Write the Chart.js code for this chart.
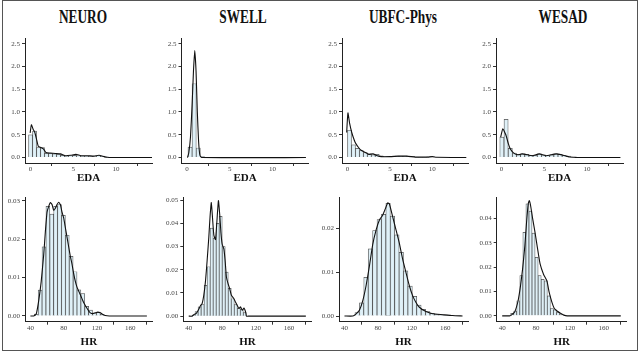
<!DOCTYPE html>
<html>
<head>
<meta charset="utf-8">
<script src="https://cdn.jsdelivr.net/npm/chart.js@4.4.0/dist/chart.umd.min.js"></script>
<style>
  body { margin: 0; background: #fff; width: 640px; height: 352px; position: relative; overflow: hidden; font-family: 'Liberation Serif', serif; }
  .frame { position: absolute; left: 2px; top: 0; width: 636px; height: 351px; border: 1px solid #555; box-sizing: border-box; }
  .title { position: absolute; top: 7px; width: 160px; text-align: center; font-family: 'Liberation Serif', serif; font-weight: bold; font-size: 18px; color: #111; transform: scaleX(0.74); }
  canvas { position: absolute; }
</style>
</head>
<body>
<div class="frame"></div>
<div id="titles"></div>

<script>
// ===== Data =====
const datasetNames = ['NEURO', 'SWELL', 'UBFC-Phys', 'WESAD'];
const edaXTicks = [0, 5, 10];
const edaYTicks = [0, 0.5, 1, 1.5, 2, 2.5];
const hrXTicks = [40, 80, 120, 160];
const neuroHrYTicks = [0, 0.01, 0.02, 0.03];
const swellHrYTicks = [0, 0.01, 0.02, 0.03, 0.04, 0.05];
const ubfcHrYTicks = [0, 0.01, 0.02];
const wesadHrYTicks = [0, 0.01, 0.02, 0.03, 0.04];

// EDA histograms (bin centres / density) and density curves
const neuroEdaBins = [0, 0.467, 0.933, 1.4, 1.867, 2.333, 2.8, 3.267, 3.733, 4.2, 4.667, 5.133, 5.6, 6.067, 6.533, 7.0, 7.467, 7.933, 8.4, 8.867, 9.333];
const neuroEdaHist = [0.50, 0.58, 0.22, 0.22, 0.09, 0.09, 0.08, 0.07, 0.05, 0.03, 0.04, 0.05, 0.04, 0.03, 0.03, 0.03, 0.02, 0.04, 0.03, 0.01, 0.005];
const neuroEdaDensX = [-0.05, 0.1, 0.3, 0.5, 0.7, 0.9, 1.2, 1.5, 1.8, 2.3, 2.9, 3.5, 4.1, 4.7, 5.3, 5.9, 6.7, 7.4, 8.0, 8.6, 9.0, 9.5, 14.2];
const neuroEdaDensY = [0.54, 0.72, 0.62, 0.55, 0.40, 0.25, 0.22, 0.19, 0.11, 0.10, 0.09, 0.08, 0.04, 0.05, 0.07, 0.04, 0.04, 0.03, 0.05, 0.02, 0.005, 0, 0];

const swellEdaBins = [0.35, 0.83, 1.31, 1.79];
const swellEdaHist = [0.23, 1.62, 0.21, 0.02];
const swellEdaDensX = [0.05, 0.2, 0.4, 0.6, 0.75, 0.9, 1.05, 1.2, 1.35, 1.5, 1.7, 13.9];
const swellEdaDensY = [0, 0.1, 0.45, 1.2, 1.9, 2.35, 1.9, 1.0, 0.35, 0.05, 0, 0];

const ubfcEdaBins = [0.233, 0.7, 1.167, 1.633, 2.1, 2.567, 3.033, 3.5, 3.967, 4.433, 4.9, 5.367, 5.833, 6.3, 6.767, 7.233, 7.7, 8.167, 8.633, 9.1, 9.567, 10.033];
const ubfcEdaHist = [0.60, 0.28, 0.20, 0.15, 0.11, 0.08, 0.06, 0.07, 0.04, 0.02, 0.02, 0.02, 0.03, 0.03, 0.03, 0.02, 0.02, 0.01, 0.01, 0.01, 0.015, 0.015];
const ubfcEdaDensX = [-0.1, 0.05, 0.25, 0.5, 0.8, 1.0, 1.3, 1.6, 2.0, 2.5, 3.0, 3.5, 4.0, 5.0, 6.0, 7.0, 8.0, 9.0, 9.5, 10.0, 10.5, 14.0];
const ubfcEdaDensY = [0.55, 0.98, 0.75, 0.55, 0.38, 0.30, 0.22, 0.16, 0.12, 0.07, 0.08, 0.04, 0.02, 0.02, 0.03, 0.03, 0.01, 0.01, 0.01, 0.02, 0.005, 0];

const wesadEdaBins = [0.04, 0.53, 1.02, 1.5, 1.99, 2.47, 2.96, 3.44, 3.93, 4.42, 4.9, 5.39, 5.87, 6.36, 6.84, 7.33, 7.82, 8.3];
const wesadEdaHist = [0.45, 0.84, 0.20, 0.10, 0.07, 0.08, 0.07, 0.05, 0.05, 0.08, 0.06, 0.04, 0.06, 0.08, 0.07, 0.05, 0.03, 0.01];
const wesadEdaDensX = [-0.1, 0.15, 0.5, 0.8, 1.0, 1.3, 1.6, 2.0, 2.4, 2.8, 3.2, 3.6, 4.0, 4.4, 4.8, 5.2, 5.6, 6.0, 6.4, 6.8, 7.2, 7.6, 8.0, 8.5, 9.0, 13.9];
const wesadEdaDensY = [0.45, 0.63, 0.50, 0.30, 0.20, 0.12, 0.08, 0.06, 0.08, 0.07, 0.05, 0.04, 0.06, 0.08, 0.06, 0.04, 0.05, 0.07, 0.08, 0.07, 0.05, 0.03, 0.01, 0.005, 0, 0];

// HR histograms and density curves
const neuroHrBins = [47.0, 51.7, 56.3, 61.0, 65.7, 70.3, 75.0, 79.7, 84.3, 89.0, 93.7, 98.3, 103.0, 107.7, 112.3, 117.0, 121.7, 126.3];
const neuroHrHist = [0.0005, 0.0067, 0.018, 0.0285, 0.0265, 0.0285, 0.029, 0.0262, 0.021, 0.0155, 0.0115, 0.0068, 0.0058, 0.0025, 0.0015, 0.0008, 0.001, 0.0004];
const neuroHrDensX = [40, 44, 47, 50, 53, 56, 58, 60, 62, 64, 66, 68, 70, 72, 74, 76, 78, 80, 82, 84, 86, 88, 90, 92, 94, 96, 98, 100, 102, 104, 106, 108, 110, 112, 115, 118, 121, 124, 127, 130, 135, 180];
const neuroHrDensY = [0, 0, 0.0005, 0.004, 0.009, 0.016, 0.022, 0.027, 0.0285, 0.0295, 0.029, 0.0275, 0.028, 0.029, 0.0296, 0.029, 0.027, 0.0255, 0.023, 0.0205, 0.018, 0.0155, 0.0135, 0.011, 0.009, 0.0075, 0.0065, 0.0055, 0.0045, 0.0035, 0.0027, 0.002, 0.0013, 0.0008, 0.0006, 0.0008, 0.001, 0.0008, 0.0004, 0.0001, 0, 0];

const swellHrBins = [45.8, 49.4, 53.0, 56.6, 60.2, 63.8, 67.4, 71.0, 74.6, 78.2, 81.8, 85.4, 89.0, 92.6, 96.2, 99.8, 103.4, 107.0];
const swellHrHist = [0.0005, 0.002, 0.004, 0.005, 0.0133, 0.0213, 0.038, 0.0336, 0.040, 0.043, 0.030, 0.019, 0.012, 0.0075, 0.005, 0.0035, 0.003, 0.0015];
const swellHrDensX = [40, 44, 46, 49, 52, 54, 56, 58, 60, 62, 64, 65.5, 67, 68.5, 70, 72, 73.5, 75.5, 77, 78.5, 80, 82, 83.5, 85, 87, 89, 91, 94, 96, 98, 100, 102, 104, 106, 108, 109, 112, 180];
const swellHrDensY = [0, 0, 0.0006, 0.0012, 0.003, 0.0045, 0.0054, 0.009, 0.015, 0.024, 0.034, 0.043, 0.049, 0.042, 0.035, 0.033, 0.040, 0.0498, 0.044, 0.036, 0.031, 0.029, 0.024, 0.017, 0.014, 0.0118, 0.009, 0.0075, 0.006, 0.0046, 0.0033, 0.004, 0.0025, 0.0035, 0.0018, 0, 0, 0];

const ubfcHrBins = [55.1, 60.4, 65.6, 70.9, 76.1, 81.4, 86.6, 91.9, 97.1, 102.4, 107.6, 112.9, 118.1, 123.4, 128.6, 133.9, 139.1, 144.4, 149.6, 154.9, 160.1, 165.4];
const ubfcHrHist = [0.0008, 0.003, 0.0088, 0.0153, 0.0195, 0.022, 0.0232, 0.0257, 0.0228, 0.0185, 0.0145, 0.0103, 0.0068, 0.0045, 0.0025, 0.0015, 0.001, 0.0006, 0.0004, 0.0003, 0.0002, 0.0001];
const ubfcHrDensX = [40, 50, 53.9, 57.8, 61.8, 65.7, 69.7, 73.6, 77.6, 81.6, 85.5, 88.7, 91.5, 93.4, 97.4, 101.4, 105.3, 109.3, 113.2, 117.2, 121.2, 125.1, 129.1, 137, 145, 156.8, 168.7, 180.5];
const ubfcHrDensY = [0, 0, 0.0005, 0.0013, 0.0035, 0.0069, 0.0114, 0.0163, 0.0196, 0.0219, 0.023, 0.0245, 0.0258, 0.0256, 0.0226, 0.0196, 0.0166, 0.0129, 0.0099, 0.0069, 0.0046, 0.0031, 0.002, 0.001, 0.0005, 0.0003, 0.0001, 0];

const wesadHrBins = [51.8, 55.4, 59.0, 62.6, 66.2, 69.8, 73.4, 77.0, 80.6, 84.2, 87.8, 91.4, 95.0, 98.6, 102.2, 105.8, 109.4];
const wesadHrHist = [0.001, 0.002, 0.0062, 0.0165, 0.0343, 0.046, 0.043, 0.034, 0.024, 0.0165, 0.015, 0.0144, 0.0082, 0.003, 0.0025, 0.0013, 0.0005];
const wesadHrDensX = [40, 48.8, 50.75, 54.75, 58.75, 61.6, 64, 66.75, 68.75, 70.75, 72, 73.5, 76, 78.75, 81.5, 84.75, 88.75, 92.75, 95.5, 98.75, 101.5, 104.75, 108.75, 112.75, 116.75, 180];
const wesadHrDensY = [0, 0, 0.0003, 0.0016, 0.0062, 0.0123, 0.019, 0.0288, 0.0384, 0.046, 0.0473, 0.0453, 0.0398, 0.0343, 0.0281, 0.0213, 0.0171, 0.0144, 0.0096, 0.0055, 0.003, 0.002, 0.0011, 0.0003, 0, 0];

// ===== Layout =====
Chart.defaults.font.family = "'Liberation Serif', 'Times New Roman', serif";
Chart.defaults.color = '#444';

const rows = [
  { top: 38, bottom: 163, label: 'EDA', titlePad: 3, xMin: -0.65, xMax: 14.2, xTicks: edaXTicks, dec: 1 },
  { top: 196.7, bottom: 321.7, label: 'HR', titlePad: -2, xMin: 33.5, xMax: 187, xTicks: hrXTicks, dec: 2 }
];

const panels = [
  { row: 0, left: 25, right: 152, bins: neuroEdaBins, hist: neuroEdaHist, dx: neuroEdaDensX, dy: neuroEdaDensY, yMin: -0.12, yMax: 2.62, yTicks: edaYTicks },
  { row: 0, left: 181.5, right: 308.5, bins: swellEdaBins, hist: swellEdaHist, dx: swellEdaDensX, dy: swellEdaDensY, yMin: -0.12, yMax: 2.62, yTicks: edaYTicks },
  { row: 0, left: 342, right: 468, bins: ubfcEdaBins, hist: ubfcEdaHist, dx: ubfcEdaDensX, dy: ubfcEdaDensY, yMin: -0.12, yMax: 2.62, yTicks: edaYTicks },
  { row: 0, left: 496, right: 623, bins: wesadEdaBins, hist: wesadEdaHist, dx: wesadEdaDensX, dy: wesadEdaDensY, yMin: -0.12, yMax: 2.62, yTicks: edaYTicks },
  { row: 1, left: 25, right: 152.7, bins: neuroHrBins, hist: neuroHrHist, dx: neuroHrDensX, dy: neuroHrDensY, yMin: -0.0015, yMax: 0.0309, yTicks: neuroHrYTicks },
  { row: 1, left: 183.3, right: 311.7, bins: swellHrBins, hist: swellHrHist, dx: swellHrDensX, dy: swellHrDensY, yMin: -0.0024, yMax: 0.0513, yTicks: swellHrYTicks },
  { row: 1, left: 339, right: 468, bins: ubfcHrBins, hist: ubfcHrHist, dx: ubfcHrDensX, dy: ubfcHrDensY, yMin: -0.0013, yMax: 0.0271, yTicks: ubfcHrYTicks },
  { row: 1, left: 496.7, right: 626.7, bins: wesadHrBins, hist: wesadHrHist, dx: wesadHrDensX, dy: wesadHrDensY, yMin: -0.0024, yMax: 0.0487, yTicks: wesadHrYTicks }
];

// ===== Column titles =====
const titleBox = document.getElementById('titles');
datasetNames.forEach((name, i) => {
  const d = document.createElement('div');
  d.className = 'title';
  d.style.left = (i * 160 + 3) + 'px';
  d.textContent = name;
  titleBox.appendChild(d);
});

// ===== Panels =====
const Y_AXIS_W = 24;
const X_AXIS_H = 24;

panels.forEach(p => {
  const r = rows[p.row];
  const canvas = document.createElement('canvas');
  const cLeft = Math.round(p.left - Y_AXIS_W - 2);
  const cTop = Math.round(r.top - 6);
  const w = Math.round(p.right - cLeft + 4);
  const h = Math.round(r.bottom + X_AXIS_H + 3 - cTop);
  canvas.width = w;
  canvas.height = h;
  canvas.style.left = cLeft + 'px';
  canvas.style.top = cTop + 'px';
  document.body.appendChild(canvas);

  const axisLook = {
    border: { display: true, color: '#222', width: 1 },
    grid: { display: true, drawOnChartArea: false, drawTicks: true, tickLength: 3, tickColor: '#333' }
  };

  new Chart(canvas, {
    data: {
      datasets: [
        {
          type: 'bar',
          data: p.bins.map((b, i) => ({ x: b, y: p.hist[i] })),
          backgroundColor: 'rgba(222,240,248,0.95)',
          borderColor: 'rgba(35,35,35,0.8)',
          borderWidth: 0.7,
          barPercentage: 1,
          categoryPercentage: 1,
          order: 2
        },
        {
          type: 'line',
          data: p.dx.map((x, i) => ({ x: x, y: p.dy[i] })),
          borderColor: '#111',
          borderWidth: 1.1,
          pointRadius: 0,
          tension: 0.15,
          fill: false,
          order: 1
        }
      ]
    },
    options: {
      responsive: false,
      animation: false,
      devicePixelRatio: 1,
      plugins: { legend: { display: false }, tooltip: { enabled: false } },
      layout: {
        padding: {
          left: p.left - cLeft - Y_AXIS_W,
          right: w - (p.right - cLeft),
          top: r.top - cTop,
          bottom: h - (r.bottom - cTop) - X_AXIS_H
        }
      },
      scales: {
        x: {
          type: 'linear',
          min: r.xMin,
          max: r.xMax,
          offset: false,
          ...axisLook,
          afterBuildTicks: s => { s.ticks = r.xTicks.map(v => ({ value: v })); },
          afterFit: s => { s.height = X_AXIS_H; },
          ticks: { autoSkip: false, maxRotation: 0, padding: -1, font: { size: 7 }, color: '#444' },
          title: { display: true, text: r.label, color: '#111', font: { size: 11, weight: 'bold', lineHeight: 1 }, padding: { top: 0, bottom: r.titlePad } }
        },
        y: {
          type: 'linear',
          min: p.yMin,
          max: p.yMax,
          ...axisLook,
          afterBuildTicks: s => { s.ticks = p.yTicks.map(v => ({ value: v })); },
          afterFit: s => { s.width = Y_AXIS_W; },
          ticks: { autoSkip: false, padding: 2, font: { size: 7 }, color: '#444', callback: v => Number(v).toFixed(r.dec) }
        }
      }
    }
  });
});
</script>
</body>
</html>
